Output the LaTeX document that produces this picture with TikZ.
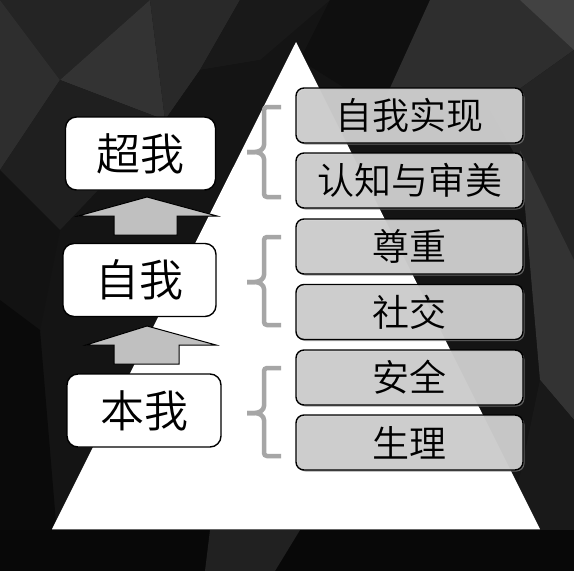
\documentclass[tikz,border=0pt]{standalone}
\usepackage{fontspec}
\newfontfamily\cjk{Noto Sans CJK SC DemiLight}
\usetikzlibrary{shadows}
\definecolor{bgbase}{RGB}{20,20,20}
\definecolor{boxgray}{RGB}{210,210,210}
\definecolor{arrowgray}{RGB}{192,192,192}
\definecolor{bracegray}{RGB}{166,166,166}
\tikzset{
  selfbox/.style={draw=black, line width=1.4pt, fill=white, rounded corners=11pt,
    minimum width=#1, minimum height=73pt, inner sep=0pt,
    font=\cjk\fontsize{44}{44}\selectfont, text=black},
  needbox/.style={draw=black, line width=1.4pt, fill=boxgray, fill opacity=0.9, text opacity=1,
    rounded corners=8pt, minimum width=227pt, minimum height=55pt, inner sep=0pt,
    drop shadow={shadow xshift=1.5pt, shadow yshift=-1.5pt, opacity=0.7},
    font=\cjk\fontsize{37}{37}\selectfont, text=black},
  blockarrow/.style={draw=black, line width=1pt, fill=arrowgray, line join=miter},
  bracestyle/.style={draw=bracegray, line width=4.5pt, rounded corners=3pt},
  facet/.style={fill=#1, draw=none}
}
\begin{document}
\begin{tikzpicture}[x=1pt,y=-1pt]
\useasboundingbox (0,0) rectangle (574,571);
% background low-poly
\fill[bgbase] (0,0) rectangle (574,571);
\fill[facet={black!86}] (0,0) -- (150,0) -- (60,80) -- cycle;
\fill[facet={black!82}] (0,0) -- (60,80) -- (0,170) -- cycle;
\fill[facet={black!80}] (60,80) -- (150,0) -- (165,120) -- cycle;
\fill[facet={black!88}] (0,170) -- (60,80) -- (165,120) -- (60,230) -- cycle;
\fill[facet={black!84}] (150,0) -- (240,0) -- (200,70) -- (165,120) -- cycle;
\fill[facet={black!90}] (240,0) -- (330,0) -- (260,60) -- (200,70) -- cycle;
\fill[facet={black!92}] (200,70) -- (260,60) -- (240,160) -- (165,120) -- cycle;
\fill[facet={black!93}] (0,170) -- (60,230) -- (40,330) -- (0,300) -- cycle;
\fill[facet={black!96}] (0,300) -- (40,330) -- (60,571) -- (0,571) -- cycle;
\fill[facet={black!94}] (330,0) -- (430,0) -- (380,110) -- (300,60) -- cycle;
\fill[facet={black!82}] (430,0) -- (574,0) -- (574,50) -- (490,110) -- (380,110) -- cycle;
\fill[facet={black!74}] (520,0) -- (574,0) -- (574,50) -- cycle;
\fill[facet={black!86}] (490,110) -- (574,50) -- (574,260) -- cycle;
\fill[facet={black!80}] (520,150) -- (574,260) -- (574,420) -- (540,380) -- cycle;
\fill[facet={black!90}] (540,380) -- (574,420) -- (574,571) -- (500,571) -- cycle;
\fill[facet={black!97}] (0,530) -- (574,530) -- (574,571) -- (0,571) -- cycle;
\fill[facet={black!87}] (210,530) -- (300,530) -- (275,571) -- (205,571) -- cycle;
% pyramid
\fill[white] (296,42) -- (540,529) -- (52,529) -- cycle;
\draw[black!60, line width=0.8pt] (52,529.5) -- (540,529.5);
% left boxes
\node[selfbox=150pt] (chao) at (140.5,153.5) {超我};
\node[selfbox=153pt] (zi) at (139.5,280) {自我};
\node[selfbox=154pt] (ben) at (144,410.5) {本我};
% block arrows
\draw[blockarrow] (114,235) -- (114,216) -- (78,216) -- (147,197) -- (217,216) -- (177,216) -- (177,235) -- cycle;
\draw[blockarrow] (114,364) -- (114,345) -- (86,345) -- (147,326) -- (216,345) -- (179,345) -- (179,364) -- cycle;
% braces
\draw[bracestyle] (281,107) -- (264,107) -- (264,148) -- (258,152) -- (247,152);
\draw[bracestyle] (247,152) -- (258,152) -- (264,156) -- (264,197) -- (281,197);
\draw[bracestyle] (281,237) -- (264,237) -- (264,278) -- (258,282) -- (247,282);
\draw[bracestyle] (247,282) -- (258,282) -- (264,286) -- (264,325) -- (281,325);
\draw[bracestyle] (281,368) -- (264,368) -- (264,409) -- (258,413) -- (247,413);
\draw[bracestyle] (247,413) -- (258,413) -- (264,417) -- (264,456) -- (281,456);
% right boxes
\node[needbox] (n1) at (409.5,115.5) {自我实现};
\node[needbox] (n2) at (409.5,180.5) {认知与审美};
\node[needbox] (n3) at (409.5,246.5) {尊重};
\node[needbox] (n4) at (409.5,312) {社交};
\node[needbox] (n5) at (409.5,377.5) {安全};
\node[needbox] (n6) at (409.5,442.5) {生理};
\end{tikzpicture}
\end{document}
